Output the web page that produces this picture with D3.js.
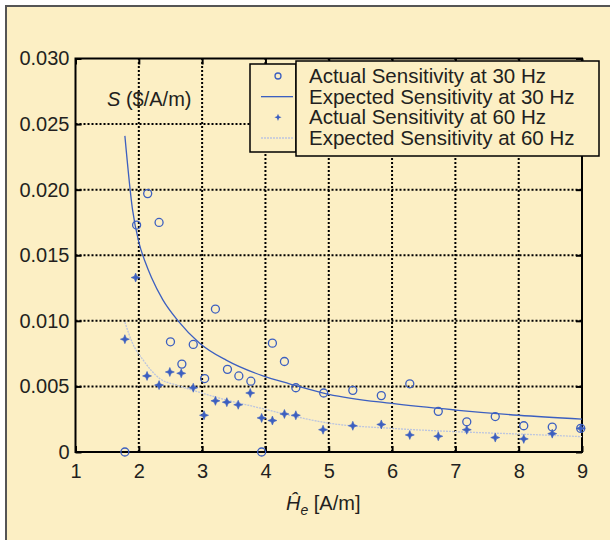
<!DOCTYPE html>
<html>

<head>
  <meta charset='utf-8'>
  <title>Sensitivity vs field amplitude</title>
  <script src="https://cdn.jsdelivr.net/npm/d3@7"></script>
  <style>
    body { margin: 0; background: #fff; }
    text { font-family: "Liberation Sans", Arial, sans-serif; fill: #231f20; }
  </style>
</head>

<body>
  <svg width="610" height="540" id="mySVG"></svg>
  <script>

    // values
    const xTicks = [1, 2, 3, 4, 5, 6, 7, 8, 9];
    const yTicks = [0, 0.005, 0.010, 0.015, 0.020, 0.025, 0.030];
    const yTickLabels = ["0", "0.005", "0.010", "0.015", "0.020", "0.025", "0.030"];

    const actual30X = [2.14, 1.965, 2.32, 3.21, 2.50, 2.86, 4.11, 4.30, 2.68, 3.04, 3.40, 3.58, 3.77, 1.78, 3.94,
      4.48, 4.92, 5.38, 5.83, 6.28, 6.73, 7.18, 7.63, 8.08, 8.53, 8.98];
    const actual30Y = [0.0197, 0.0173, 0.0175, 0.0109, 0.0084, 0.0082, 0.0083, 0.0069, 0.0067, 0.0056, 0.0063, 0.0058, 0.0054, 0, 0,
      0.0049, 0.0045, 0.0047, 0.0043, 0.0052, 0.0031, 0.0023, 0.0027, 0.0020, 0.0019, 0.0018];

    const actual60X = [1.95, 1.78, 2.13, 2.32, 2.49, 2.67, 2.86, 3.76, 3.03, 3.21, 3.39, 3.57, 3.94, 4.11, 4.30,
      4.48, 4.91, 5.38, 5.83, 6.28, 6.73, 7.18, 7.63, 8.08, 8.53, 8.98];
    const actual60Y = [0.0133, 0.0086, 0.0058, 0.0051, 0.0061, 0.0060, 0.0049, 0.0045, 0.0028, 0.0039, 0.0038, 0.0036, 0.0026, 0.0024, 0.0029,
      0.0028, 0.0017, 0.0020, 0.0021, 0.0013, 0.0012, 0.0017, 0.0011, 0.0010, 0.0014, 0.0018];

    const expected30X = [1.78, 1.90, 2.0, 2.1, 2.2, 2.38, 2.62, 2.96, 3.38, 3.96, 4.38, 5.0, 6.0, 7.0, 8.0, 9.0];
    const expected30Y = [0.0241, 0.0185, 0.0160, 0.0145, 0.0133, 0.0116, 0.0100, 0.0083, 0.0070, 0.0058, 0.0052, 0.0044, 0.0037, 0.0032, 0.0028, 0.0025];

    const expected60X = [1.78, 1.9, 2.07, 2.33, 2.6, 2.86, 3.28, 3.96, 4.3, 5.0, 6.0, 7.0, 8.0, 9.0];
    const expected60Y = [0.0099, 0.0083, 0.0070, 0.0056, 0.0051, 0.0047, 0.0041, 0.0033, 0.0029, 0.0022, 0.0018, 0.00155, 0.00137, 0.00117];

    const legendLabels = ["Actual Sensitivity at 30 Hz", "Expected Sensitivity at 30 Hz",
      "Actual Sensitivity at 60 Hz", "Expected Sensitivity at 60 Hz"];

    const bg = "#fcefc4";
    const blue = "#3c5fc0";
    const paleBlue = "#bcc5df";
    const fontSize = 20;

    const svg = d3.select('#mySVG');

    // outer panel with grey border on top and left only
    svg.append('rect').attr('x', 6).attr('y', 6).attr('width', 610).attr('height', 540).style('fill', bg);
    svg.append('path').attr('d', 'M6,540 V6 H610').style('fill', 'none').style('stroke', '#555').style('stroke-width', 2);

    const x = d3.scaleLinear().domain([1, 9]).range([75.5, 582]);
    const y = d3.scaleLinear().domain([0, 0.03]).range([452, 58.5]);

    // dotted grid
    svg.append('g').selectAll('line')
      .data(xTicks.slice(1, -1))
      .join('line')
      .attr('x1', d => x(d)).attr('x2', d => x(d))
      .attr('y1', y(0)).attr('y2', y(0.03))
      .style('stroke', '#000').style('stroke-width', 2).style('stroke-dasharray', '2,2');

    svg.append('g').selectAll('line')
      .data(yTicks.slice(1, -1))
      .join('line')
      .attr('x1', x(1)).attr('x2', x(9))
      .attr('y1', d => y(d)).attr('y2', d => y(d))
      .style('stroke', '#000').style('stroke-width', 2).style('stroke-dasharray', '2,2');

    // axes with inward ticks, then mirrored ones for the box
    svg.append('g')
      .attr('transform', `translate(0,${y(0)})`)
      .call(d3.axisBottom(x).tickValues(xTicks).tickSizeInner(-6).tickSizeOuter(0).tickPadding(12));
    svg.append('g')
      .attr('transform', `translate(${x(1)},0)`)
      .call(d3.axisLeft(y).tickValues(yTicks).tickFormat((d, i) => yTickLabels[i]).tickSizeInner(-6).tickSizeOuter(0).tickPadding(6));
    svg.append('g')
      .attr('transform', `translate(0,${y(0.03)})`)
      .call(d3.axisTop(x).tickValues(xTicks).tickSizeInner(-6).tickSizeOuter(0).tickFormat(''));
    svg.append('g')
      .attr('transform', `translate(${x(9)},0)`)
      .call(d3.axisRight(y).tickValues(yTicks).tickSizeInner(-6).tickSizeOuter(0).tickFormat(''));

    svg.selectAll('.domain').remove();
    svg.selectAll('.tick line').style('stroke', '#000').style('stroke-width', 2);
    svg.selectAll('.tick text')
      .style('font-family', '"Liberation Sans", Arial, sans-serif')
      .style('font-size', fontSize + 'px')
      .style('fill', '#231f20');

    svg.append('rect')
      .attr('x', x(1)).attr('y', y(0.03))
      .attr('width', x(9) - x(1)).attr('height', y(0) - y(0.03))
      .style('fill', 'none').style('stroke', '#000').style('stroke-width', 2);

    // expected curves
    const line = d3.line().x(d => x(d[0])).y(d => y(d[1])).curve(d3.curveMonotoneX);

    svg.append('path')
      .datum(d3.zip(expected60X, expected60Y))
      .attr('d', line)
      .style('fill', 'none').style('stroke', paleBlue).style('stroke-width', 1.3)
      .style('stroke-dasharray', '2,1');

    svg.append('path')
      .datum(d3.zip(expected30X, expected30Y))
      .attr('d', line)
      .style('fill', 'none').style('stroke', blue).style('stroke-width', 1.3);

    // star marker for 60 Hz
    const star = 'M0,-4.5L1.3,-1.3L4.5,0L1.3,1.3L0,4.5L-1.3,1.3L-4.5,0L-1.3,-1.3Z';

    svg.append('g').selectAll('path')
      .data(d3.zip(actual60X, actual60Y))
      .join('path')
      .attr('d', star)
      .attr('transform', d => `translate(${x(d[0])},${y(d[1])})`)
      .style('fill', blue).style('stroke', blue).style('stroke-width', 0.6);

    svg.append('g').selectAll('circle')
      .data(d3.zip(actual30X, actual30Y))
      .join('circle')
      .attr('cx', d => x(d[0])).attr('cy', d => y(d[1]))
      .attr('r', 4)
      .style('fill', 'none').style('stroke', blue).style('stroke-width', 1.3);

    // axis titles
    const xTitle = svg.append('text')
      .attr('x', 286).attr('y', 510)
      .style('font-size', fontSize + 'px');
    xTitle.append('tspan').style('font-style', 'italic').text('\u0124');
    xTitle.append('tspan').style('font-style', 'italic').style('font-size', '14px').attr('dy', 5).text('e');
    xTitle.append('tspan').attr('dy', -5).text(' [A/m]');

    const yTitle = svg.append('text')
      .attr('x', 107).attr('y', 106)
      .style('font-size', fontSize + 'px');
    yTitle.append('tspan').style('font-style', 'italic').text('S');
    yTitle.append('tspan').text(' ($/A/m)');

    // legend: symbol box and text box like the original
    svg.append('rect').attr('x', 250).attr('y', 64).attr('width', 46).attr('height', 88)
      .style('fill', bg).style('stroke', '#000').style('stroke-width', 1.5);
    svg.append('rect').attr('x', 296).attr('y', 61).attr('width', 303).attr('height', 95)
      .style('fill', bg).style('stroke', '#000').style('stroke-width', 1.5);

    const rowY = d3.scaleLinear().domain([0, 3]).range([76, 138]);

    svg.append('circle').attr('cx', 278).attr('cy', rowY(0)).attr('r', 3)
      .style('fill', 'none').style('stroke', blue).style('stroke-width', 1.3);
    svg.append('line').attr('x1', 261).attr('x2', 293).attr('y1', rowY(1)).attr('y2', rowY(1))
      .style('stroke', blue).style('stroke-width', 1.3);
    svg.append('path').attr('d', star).attr('transform', `translate(278,${rowY(2)}) scale(0.8)`)
      .style('fill', blue);
    svg.append('line').attr('x1', 261).attr('x2', 293).attr('y1', rowY(3)).attr('y2', rowY(3))
      .style('stroke', paleBlue).style('stroke-width', 1.3).style('stroke-dasharray', '2,1');

    svg.append('g').selectAll('text')
      .data(legendLabels)
      .join('text')
      .attr('x', 309)
      .attr('y', (d, i) => rowY(i) + 7)
      .style('font-size', '20.5px')
      .text(d => d);

  </script>

</body>

</html>
